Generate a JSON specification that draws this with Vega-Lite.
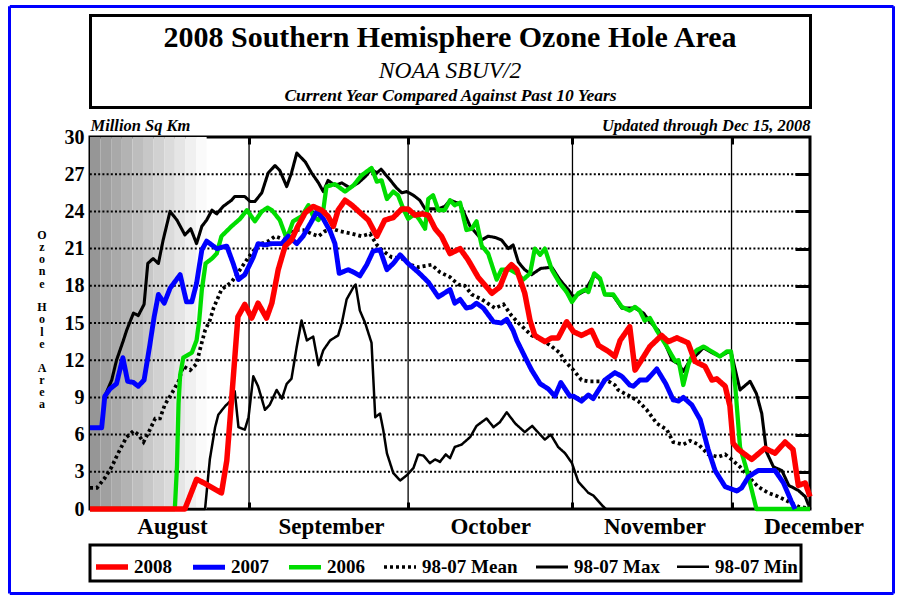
{
  "$schema": "https://vega.github.io/schema/vega-lite/v6.json",
  "background": "white",
  "width": 720,
  "height": 372,
  "autosize": {"type": "none"},
  "padding": {"left": 90, "top": 137, "right": 90, "bottom": 91},
  "config": {
    "font": "Liberation Serif",
    "view": {"stroke": "black", "strokeWidth": 3},
    "legend": {"strokeColor": "black", "strokeWidth": 3, "fillColor": "white"}
  },
  "title": {
    "text": "2008 Southern Hemisphere Ozone Hole Area",
    "subtitle": "NOAA SBUV/2",
    "frame": "group",
    "anchor": "middle",
    "offset": -78,
    "fontSize": 30,
    "fontWeight": "bold",
    "color": "black",
    "subtitleFontSize": 23.5,
    "subtitleFontStyle": "italic",
    "subtitleColor": "black",
    "subtitlePadding": 6
  },
  "datasets": {
    "ozone": [
      {"series": "2008", "day": 1, "area": 0}, {"series": "2008", "day": 18.9, "area": 0}, {"series": "2008", "day": 21.1, "area": 2.4}, {"series": "2008", "day": 22.5, "area": 2.1}, {"series": "2008", "day": 25.8, "area": 1.3}, {"series": "2008", "day": 26.8, "area": 3.9}, {"series": "2008", "day": 27.7, "area": 8.8}, {"series": "2008", "day": 28.9, "area": 15.5}, {"series": "2008", "day": 30.2, "area": 16.5}, {"series": "2008", "day": 31.5, "area": 15.4}, {"series": "2008", "day": 32.7, "area": 16.6}, {"series": "2008", "day": 34.3, "area": 15.4}, {"series": "2008", "day": 35.3, "area": 16.6}, {"series": "2008", "day": 36.5, "area": 19.3}, {"series": "2008", "day": 37.8, "area": 21.2}, {"series": "2008", "day": 39, "area": 21.7}, {"series": "2008", "day": 40.2, "area": 22.8}, {"series": "2008", "day": 41.6, "area": 23.9}, {"series": "2008", "day": 43.1, "area": 24.4}, {"series": "2008", "day": 44.7, "area": 24.1}, {"series": "2008", "day": 45.9, "area": 23.6}, {"series": "2008", "day": 46.9, "area": 22.8}, {"series": "2008", "day": 47.8, "area": 24.1}, {"series": "2008", "day": 49.1, "area": 24.9}, {"series": "2008", "day": 50.4, "area": 24.5}, {"series": "2008", "day": 52.2, "area": 23.8}, {"series": "2008", "day": 53.5, "area": 23.3}, {"series": "2008", "day": 55.1, "area": 22}, {"series": "2008", "day": 56.6, "area": 23.3}, {"series": "2008", "day": 58.2, "area": 23.5}, {"series": "2008", "day": 59.8, "area": 24.2}, {"series": "2008", "day": 61, "area": 24.2}, {"series": "2008", "day": 62.3, "area": 23.7}, {"series": "2008", "day": 63.6, "area": 23.8}, {"series": "2008", "day": 64.8, "area": 23.7}, {"series": "2008", "day": 66.1, "area": 22.6}, {"series": "2008", "day": 67.3, "area": 22}, {"series": "2008", "day": 68.9, "area": 20.6}, {"series": "2008", "day": 70.8, "area": 21}, {"series": "2008", "day": 72.3, "area": 20.1}, {"series": "2008", "day": 74.2, "area": 18.7}, {"series": "2008", "day": 76.8, "area": 17.4}, {"series": "2008", "day": 78.3, "area": 17.9}, {"series": "2008", "day": 79.6, "area": 19.3}, {"series": "2008", "day": 80.5, "area": 19.7}, {"series": "2008", "day": 81.5, "area": 19.3}, {"series": "2008", "day": 83, "area": 17.4}, {"series": "2008", "day": 84, "area": 15.2}, {"series": "2008", "day": 84.9, "area": 14}, {"series": "2008", "day": 86.8, "area": 13.5}, {"series": "2008", "day": 88.1, "area": 13.8}, {"series": "2008", "day": 89.3, "area": 13.8}, {"series": "2008", "day": 90.9, "area": 15.1}, {"series": "2008", "day": 92.2, "area": 14.3}, {"series": "2008", "day": 93.7, "area": 14}, {"series": "2008", "day": 95.6, "area": 14.4}, {"series": "2008", "day": 96.9, "area": 13.2}, {"series": "2008", "day": 98.8, "area": 12.7}, {"series": "2008", "day": 100, "area": 12.3}, {"series": "2008", "day": 101, "area": 13.6}, {"series": "2008", "day": 102.8, "area": 14.7}, {"series": "2008", "day": 103.8, "area": 11.2}, {"series": "2008", "day": 105, "area": 12}, {"series": "2008", "day": 106.6, "area": 13.1}, {"series": "2008", "day": 108.8, "area": 14}, {"series": "2008", "day": 110.1, "area": 13.5}, {"series": "2008", "day": 111.7, "area": 13.8}, {"series": "2008", "day": 113.8, "area": 13.4}, {"series": "2008", "day": 115.1, "area": 11.9}, {"series": "2008", "day": 117, "area": 11.5}, {"series": "2008", "day": 118.3, "area": 10.4}, {"series": "2008", "day": 119.2, "area": 10.5}, {"series": "2008", "day": 120.8, "area": 9.9}, {"series": "2008", "day": 121.7, "area": 8.3}, {"series": "2008", "day": 122.3, "area": 5.3}, {"series": "2008", "day": 123.3, "area": 4.8}, {"series": "2008", "day": 125.8, "area": 4}, {"series": "2008", "day": 128.3, "area": 4.9}, {"series": "2008", "day": 130.2, "area": 4.5}, {"series": "2008", "day": 132.1, "area": 5.4}, {"series": "2008", "day": 133.6, "area": 4.8}, {"series": "2008", "day": 134.6, "area": 1.9}, {"series": "2008", "day": 135.9, "area": 2.1}, {"series": "2008", "day": 136.8, "area": 1.0},

      {"series": "2007", "day": 1, "area": 6.55}, {"series": "2007", "day": 3.2, "area": 6.55}, {"series": "2007", "day": 3.8, "area": 9.1}, {"series": "2007", "day": 4.8, "area": 9.7}, {"series": "2007", "day": 6, "area": 10.1}, {"series": "2007", "day": 7.2, "area": 12.2}, {"series": "2007", "day": 8.1, "area": 10.3}, {"series": "2007", "day": 9.2, "area": 10.2}, {"series": "2007", "day": 10.1, "area": 9.9}, {"series": "2007", "day": 11.2, "area": 10.4}, {"series": "2007", "day": 12.2, "area": 13}, {"series": "2007", "day": 13.1, "area": 15.5}, {"series": "2007", "day": 13.9, "area": 17.3}, {"series": "2007", "day": 15, "area": 16.6}, {"series": "2007", "day": 16.1, "area": 17.8}, {"series": "2007", "day": 18, "area": 18.9}, {"series": "2007", "day": 19.2, "area": 16.7}, {"series": "2007", "day": 20.2, "area": 16.7}, {"series": "2007", "day": 21.1, "area": 18.2}, {"series": "2007", "day": 22.1, "area": 20.9}, {"series": "2007", "day": 23, "area": 21.6}, {"series": "2007", "day": 24.9, "area": 21}, {"series": "2007", "day": 26.8, "area": 21.2}, {"series": "2007", "day": 28, "area": 19.8}, {"series": "2007", "day": 29, "area": 18.5}, {"series": "2007", "day": 30.2, "area": 18.9}, {"series": "2007", "day": 31.8, "area": 20.3}, {"series": "2007", "day": 32.7, "area": 21.4}, {"series": "2007", "day": 34, "area": 21.3}, {"series": "2007", "day": 35.3, "area": 21.4}, {"series": "2007", "day": 37.2, "area": 21.4}, {"series": "2007", "day": 38.4, "area": 22}, {"series": "2007", "day": 40, "area": 21.4}, {"series": "2007", "day": 41.2, "area": 22}, {"series": "2007", "day": 42.8, "area": 23.2}, {"series": "2007", "day": 43.8, "area": 24}, {"series": "2007", "day": 45, "area": 23.4}, {"series": "2007", "day": 46.3, "area": 22.4}, {"series": "2007", "day": 47.2, "area": 21.4}, {"series": "2007", "day": 48, "area": 19}, {"series": "2007", "day": 49.7, "area": 19.3}, {"series": "2007", "day": 50.7, "area": 19.1}, {"series": "2007", "day": 51.9, "area": 18.8}, {"series": "2007", "day": 53.2, "area": 19.7}, {"series": "2007", "day": 54.4, "area": 20.8}, {"series": "2007", "day": 55.7, "area": 20.9}, {"series": "2007", "day": 57, "area": 19.3}, {"series": "2007", "day": 58.2, "area": 19.8}, {"series": "2007", "day": 59.5, "area": 20.5}, {"series": "2007", "day": 61, "area": 19.8}, {"series": "2007", "day": 62.9, "area": 19.1}, {"series": "2007", "day": 64.8, "area": 18.3}, {"series": "2007", "day": 66.7, "area": 17.1}, {"series": "2007", "day": 68.9, "area": 17.7}, {"series": "2007", "day": 69.8, "area": 16.6}, {"series": "2007", "day": 70.8, "area": 16.9}, {"series": "2007", "day": 72, "area": 16.2}, {"series": "2007", "day": 73, "area": 16.3}, {"series": "2007", "day": 73.9, "area": 16.6}, {"series": "2007", "day": 75.2, "area": 16.2}, {"series": "2007", "day": 77.1, "area": 15.1}, {"series": "2007", "day": 78.6, "area": 15}, {"series": "2007", "day": 79.6, "area": 15.3}, {"series": "2007", "day": 80.8, "area": 14.4}, {"series": "2007", "day": 81.5, "area": 13.6}, {"series": "2007", "day": 83, "area": 12.3}, {"series": "2007", "day": 84.3, "area": 11.2}, {"series": "2007", "day": 85.9, "area": 10.1}, {"series": "2007", "day": 87.4, "area": 9.7}, {"series": "2007", "day": 88.7, "area": 9.1}, {"series": "2007", "day": 89.8, "area": 10.2}, {"series": "2007", "day": 91.5, "area": 9.1}, {"series": "2007", "day": 92.2, "area": 9.1}, {"series": "2007", "day": 93.7, "area": 8.7}, {"series": "2007", "day": 95, "area": 9.2}, {"series": "2007", "day": 95.9, "area": 8.9}, {"series": "2007", "day": 98.1, "area": 10.4}, {"series": "2007", "day": 100, "area": 11}, {"series": "2007", "day": 101.3, "area": 10.7}, {"series": "2007", "day": 102.8, "area": 10}, {"series": "2007", "day": 103.5, "area": 9.9}, {"series": "2007", "day": 104.7, "area": 10.4}, {"series": "2007", "day": 106, "area": 10.4}, {"series": "2007", "day": 107.9, "area": 11.3}, {"series": "2007", "day": 109.6, "area": 10.1}, {"series": "2007", "day": 111, "area": 8.8}, {"series": "2007", "day": 112, "area": 8.7}, {"series": "2007", "day": 112.9, "area": 9}, {"series": "2007", "day": 114.5, "area": 8.4}, {"series": "2007", "day": 116.1, "area": 7.2}, {"series": "2007", "day": 117.6, "area": 4.8}, {"series": "2007", "day": 118.9, "area": 3.1}, {"series": "2007", "day": 120.8, "area": 1.8}, {"series": "2007", "day": 123, "area": 1.45}, {"series": "2007", "day": 123.9, "area": 1.7}, {"series": "2007", "day": 125.2, "area": 2.6}, {"series": "2007", "day": 127, "area": 3.1}, {"series": "2007", "day": 130.2, "area": 3.1}, {"series": "2007", "day": 131.8, "area": 2.1}, {"series": "2007", "day": 133.3, "area": 0.6}, {"series": "2007", "day": 134, "area": 0},

      {"series": "2006", "day": 1, "area": 0}, {"series": "2006", "day": 17, "area": 0}, {"series": "2006", "day": 17.4, "area": 3.4}, {"series": "2006", "day": 17.7, "area": 8.5}, {"series": "2006", "day": 18, "area": 10.8}, {"series": "2006", "day": 18.6, "area": 12.2}, {"series": "2006", "day": 20.2, "area": 12.6}, {"series": "2006", "day": 21.1, "area": 13.6}, {"series": "2006", "day": 21.6, "area": 15.2}, {"series": "2006", "day": 22.1, "area": 17.7}, {"series": "2006", "day": 22.8, "area": 19.8}, {"series": "2006", "day": 24, "area": 20.2}, {"series": "2006", "day": 24.9, "area": 20.6}, {"series": "2006", "day": 25.8, "area": 22}, {"series": "2006", "day": 27.7, "area": 22.8}, {"series": "2006", "day": 29.3, "area": 23.4}, {"series": "2006", "day": 30.6, "area": 24.1}, {"series": "2006", "day": 32.1, "area": 23.2}, {"series": "2006", "day": 33.4, "area": 24}, {"series": "2006", "day": 34.5, "area": 24.3}, {"series": "2006", "day": 35.3, "area": 24.1}, {"series": "2006", "day": 36.8, "area": 23.3}, {"series": "2006", "day": 38.1, "area": 21.8}, {"series": "2006", "day": 39.3, "area": 23.2}, {"series": "2006", "day": 40.9, "area": 23.6}, {"series": "2006", "day": 42.2, "area": 24.5}, {"series": "2006", "day": 43.1, "area": 23.6}, {"series": "2006", "day": 44.1, "area": 23.3}, {"series": "2006", "day": 45, "area": 24.1}, {"series": "2006", "day": 45.6, "area": 26}, {"series": "2006", "day": 47.2, "area": 26.2}, {"series": "2006", "day": 49.1, "area": 25.6}, {"series": "2006", "day": 50.7, "area": 26.1}, {"series": "2006", "day": 52.2, "area": 26.9}, {"series": "2006", "day": 54.1, "area": 27.5}, {"series": "2006", "day": 55.1, "area": 26.4}, {"series": "2006", "day": 56, "area": 26.5}, {"series": "2006", "day": 57, "area": 25}, {"series": "2006", "day": 58.2, "area": 25.6}, {"series": "2006", "day": 59.1, "area": 25.3}, {"series": "2006", "day": 60.1, "area": 24.2}, {"series": "2006", "day": 61, "area": 23.4}, {"series": "2006", "day": 62.3, "area": 23.8}, {"series": "2006", "day": 63.2, "area": 23.3}, {"series": "2006", "day": 64.2, "area": 22.6}, {"series": "2006", "day": 64.8, "area": 25}, {"series": "2006", "day": 65.7, "area": 25.3}, {"series": "2006", "day": 66.7, "area": 24.1}, {"series": "2006", "day": 67.9, "area": 24.1}, {"series": "2006", "day": 68.9, "area": 24.9}, {"series": "2006", "day": 69.8, "area": 24.5}, {"series": "2006", "day": 70.8, "area": 24.7}, {"series": "2006", "day": 72, "area": 22.5}, {"series": "2006", "day": 73, "area": 22.6}, {"series": "2006", "day": 73.9, "area": 23.2}, {"series": "2006", "day": 74.9, "area": 21.2}, {"series": "2006", "day": 76.1, "area": 20.6}, {"series": "2006", "day": 77.7, "area": 18.5}, {"series": "2006", "day": 78.6, "area": 19.3}, {"series": "2006", "day": 80.2, "area": 19.3}, {"series": "2006", "day": 81.5, "area": 19}, {"series": "2006", "day": 82.7, "area": 18.5}, {"series": "2006", "day": 84, "area": 19}, {"series": "2006", "day": 84.9, "area": 21}, {"series": "2006", "day": 85.9, "area": 20.5}, {"series": "2006", "day": 86.8, "area": 21}, {"series": "2006", "day": 88.1, "area": 19.3}, {"series": "2006", "day": 89.6, "area": 18.2}, {"series": "2006", "day": 90.9, "area": 17.5}, {"series": "2006", "day": 91.9, "area": 16.7}, {"series": "2006", "day": 93.1, "area": 17.4}, {"series": "2006", "day": 94.4, "area": 17.7}, {"series": "2006", "day": 95, "area": 17.5}, {"series": "2006", "day": 96.1, "area": 19}, {"series": "2006", "day": 97.2, "area": 18.6}, {"series": "2006", "day": 98.1, "area": 17.3}, {"series": "2006", "day": 99.7, "area": 17.3}, {"series": "2006", "day": 101.3, "area": 16.3}, {"series": "2006", "day": 102.8, "area": 16}, {"series": "2006", "day": 103.8, "area": 16.3}, {"series": "2006", "day": 104.7, "area": 16}, {"series": "2006", "day": 105.6, "area": 15.2}, {"series": "2006", "day": 106.6, "area": 15.4}, {"series": "2006", "day": 107.9, "area": 14.4}, {"series": "2006", "day": 109.8, "area": 13.1}, {"series": "2006", "day": 111.4, "area": 11.9}, {"series": "2006", "day": 112, "area": 12}, {"series": "2006", "day": 112.9, "area": 10}, {"series": "2006", "day": 113.9, "area": 11.7}, {"series": "2006", "day": 114.5, "area": 12.3}, {"series": "2006", "day": 115.4, "area": 12.8}, {"series": "2006", "day": 116.7, "area": 13.1}, {"series": "2006", "day": 118.3, "area": 12.7}, {"series": "2006", "day": 119.8, "area": 12.3}, {"series": "2006", "day": 121.1, "area": 12.7}, {"series": "2006", "day": 121.9, "area": 12.7}, {"series": "2006", "day": 122.7, "area": 9.9}, {"series": "2006", "day": 123.6, "area": 5}, {"series": "2006", "day": 124.9, "area": 3.1}, {"series": "2006", "day": 126.7, "area": 0}, {"series": "2006", "day": 136.8, "area": 0},

      {"series": "98-07 Mean", "day": 1, "area": 1.7}, {"series": "98-07 Mean", "day": 2.3, "area": 1.7}, {"series": "98-07 Mean", "day": 3.8, "area": 2.5}, {"series": "98-07 Mean", "day": 5.1, "area": 3.4}, {"series": "98-07 Mean", "day": 6.3, "area": 4.5}, {"series": "98-07 Mean", "day": 7.9, "area": 5.8}, {"series": "98-07 Mean", "day": 9.2, "area": 6.3}, {"series": "98-07 Mean", "day": 10.1, "area": 6}, {"series": "98-07 Mean", "day": 11.1, "area": 5.4}, {"series": "98-07 Mean", "day": 12.3, "area": 6.4}, {"series": "98-07 Mean", "day": 13.3, "area": 7.3}, {"series": "98-07 Mean", "day": 14.2, "area": 7.3}, {"series": "98-07 Mean", "day": 15.1, "area": 8.4}, {"series": "98-07 Mean", "day": 16.4, "area": 9.3}, {"series": "98-07 Mean", "day": 17.7, "area": 10.3}, {"series": "98-07 Mean", "day": 18.6, "area": 11.5}, {"series": "98-07 Mean", "day": 19.9, "area": 11.2}, {"series": "98-07 Mean", "day": 21.1, "area": 11.7}, {"series": "98-07 Mean", "day": 21.7, "area": 12.8}, {"series": "98-07 Mean", "day": 22.7, "area": 14.4}, {"series": "98-07 Mean", "day": 23.6, "area": 15.2}, {"series": "98-07 Mean", "day": 24.3, "area": 16.2}, {"series": "98-07 Mean", "day": 25.8, "area": 17.7}, {"series": "98-07 Mean", "day": 27.7, "area": 18.3}, {"series": "98-07 Mean", "day": 29.3, "area": 19.3}, {"series": "98-07 Mean", "day": 30.9, "area": 20.3}, {"series": "98-07 Mean", "day": 32.7, "area": 21.3}, {"series": "98-07 Mean", "day": 34.6, "area": 21.6}, {"series": "98-07 Mean", "day": 35.9, "area": 22}, {"series": "98-07 Mean", "day": 37.8, "area": 21.7}, {"series": "98-07 Mean", "day": 39.7, "area": 22.5}, {"series": "98-07 Mean", "day": 41.2, "area": 22.5}, {"series": "98-07 Mean", "day": 42.8, "area": 22.2}, {"series": "98-07 Mean", "day": 44.1, "area": 22}, {"series": "98-07 Mean", "day": 45.3, "area": 22.4}, {"series": "98-07 Mean", "day": 46.6, "area": 22.6}, {"series": "98-07 Mean", "day": 48.2, "area": 22.4}, {"series": "98-07 Mean", "day": 50.4, "area": 22.2}, {"series": "98-07 Mean", "day": 52.2, "area": 22}, {"series": "98-07 Mean", "day": 53.8, "area": 22.2}, {"series": "98-07 Mean", "day": 55.1, "area": 21.3}, {"series": "98-07 Mean", "day": 56.3, "area": 20.8}, {"series": "98-07 Mean", "day": 57.9, "area": 20.3}, {"series": "98-07 Mean", "day": 59.8, "area": 20.2}, {"series": "98-07 Mean", "day": 61.4, "area": 19.7}, {"series": "98-07 Mean", "day": 62.9, "area": 19.5}, {"series": "98-07 Mean", "day": 65.4, "area": 19.7}, {"series": "98-07 Mean", "day": 67, "area": 19.1}, {"series": "98-07 Mean", "day": 68.9, "area": 18.7}, {"series": "98-07 Mean", "day": 70.5, "area": 18.1}, {"series": "98-07 Mean", "day": 71.7, "area": 18}, {"series": "98-07 Mean", "day": 73, "area": 17.3}, {"series": "98-07 Mean", "day": 74.9, "area": 16.9}, {"series": "98-07 Mean", "day": 77.4, "area": 16.2}, {"series": "98-07 Mean", "day": 79, "area": 16.5}, {"series": "98-07 Mean", "day": 80.5, "area": 15.6}, {"series": "98-07 Mean", "day": 81.8, "area": 15}, {"series": "98-07 Mean", "day": 84.3, "area": 14}, {"series": "98-07 Mean", "day": 86.8, "area": 13.5}, {"series": "98-07 Mean", "day": 88.1, "area": 13.1}, {"series": "98-07 Mean", "day": 89.6, "area": 12.6}, {"series": "98-07 Mean", "day": 90.6, "area": 11.9}, {"series": "98-07 Mean", "day": 92.2, "area": 11.2}, {"series": "98-07 Mean", "day": 93.7, "area": 10.4}, {"series": "98-07 Mean", "day": 95, "area": 10.3}, {"series": "98-07 Mean", "day": 96.9, "area": 10.3}, {"series": "98-07 Mean", "day": 98.8, "area": 10.3}, {"series": "98-07 Mean", "day": 100, "area": 10}, {"series": "98-07 Mean", "day": 100.6, "area": 9.6}, {"series": "98-07 Mean", "day": 101.9, "area": 9.3}, {"series": "98-07 Mean", "day": 102.8, "area": 9.1}, {"series": "98-07 Mean", "day": 104.4, "area": 8.7}, {"series": "98-07 Mean", "day": 106, "area": 8}, {"series": "98-07 Mean", "day": 107.9, "area": 6.9}, {"series": "98-07 Mean", "day": 109.8, "area": 6.4}, {"series": "98-07 Mean", "day": 111, "area": 5.4}, {"series": "98-07 Mean", "day": 112.9, "area": 5.2}, {"series": "98-07 Mean", "day": 114.2, "area": 5.5}, {"series": "98-07 Mean", "day": 115.8, "area": 5.2}, {"series": "98-07 Mean", "day": 117.6, "area": 4.4}, {"series": "98-07 Mean", "day": 119.5, "area": 4.2}, {"series": "98-07 Mean", "day": 120.8, "area": 4.4}, {"series": "98-07 Mean", "day": 122, "area": 4}, {"series": "98-07 Mean", "day": 123.6, "area": 3.4}, {"series": "98-07 Mean", "day": 125.2, "area": 2.6}, {"series": "98-07 Mean", "day": 127, "area": 1.8}, {"series": "98-07 Mean", "day": 128.9, "area": 1.3}, {"series": "98-07 Mean", "day": 130.8, "area": 1}, {"series": "98-07 Mean", "day": 132.7, "area": 0.6}, {"series": "98-07 Mean", "day": 134.6, "area": 0.2}, {"series": "98-07 Mean", "day": 136.5, "area": 0.05},

      {"series": "98-07 Max", "day": 1, "area": 6.55}, {"series": "98-07 Max", "day": 3.2, "area": 6.55}, {"series": "98-07 Max", "day": 3.8, "area": 9.1}, {"series": "98-07 Max", "day": 5.1, "area": 10.4}, {"series": "98-07 Max", "day": 6, "area": 12}, {"series": "98-07 Max", "day": 7.3, "area": 13.6}, {"series": "98-07 Max", "day": 7.9, "area": 14.4}, {"series": "98-07 Max", "day": 9.2, "area": 15.8}, {"series": "98-07 Max", "day": 10.1, "area": 15.6}, {"series": "98-07 Max", "day": 11.2, "area": 16.5}, {"series": "98-07 Max", "day": 11.9, "area": 19.8}, {"series": "98-07 Max", "day": 12.9, "area": 20.2}, {"series": "98-07 Max", "day": 13.9, "area": 19.8}, {"series": "98-07 Max", "day": 14.8, "area": 21.7}, {"series": "98-07 Max", "day": 16.1, "area": 24}, {"series": "98-07 Max", "day": 17.4, "area": 23.3}, {"series": "98-07 Max", "day": 18.9, "area": 22.1}, {"series": "98-07 Max", "day": 20, "area": 22.6}, {"series": "98-07 Max", "day": 21.1, "area": 21.4}, {"series": "98-07 Max", "day": 22.1, "area": 22.8}, {"series": "98-07 Max", "day": 23, "area": 23.3}, {"series": "98-07 Max", "day": 24, "area": 24.1}, {"series": "98-07 Max", "day": 24.9, "area": 23.8}, {"series": "98-07 Max", "day": 26.1, "area": 24.4}, {"series": "98-07 Max", "day": 27.7, "area": 24.9}, {"series": "98-07 Max", "day": 28.3, "area": 25.2}, {"series": "98-07 Max", "day": 30.2, "area": 25.2}, {"series": "98-07 Max", "day": 31.2, "area": 24.8}, {"series": "98-07 Max", "day": 32.1, "area": 24.8}, {"series": "98-07 Max", "day": 33.4, "area": 25.5}, {"series": "98-07 Max", "day": 34, "area": 26.3}, {"series": "98-07 Max", "day": 34.6, "area": 27.1}, {"series": "98-07 Max", "day": 35.9, "area": 27.7}, {"series": "98-07 Max", "day": 36.8, "area": 27.3}, {"series": "98-07 Max", "day": 38.1, "area": 26}, {"series": "98-07 Max", "day": 39, "area": 27.1}, {"series": "98-07 Max", "day": 40, "area": 28.7}, {"series": "98-07 Max", "day": 41.6, "area": 28}, {"series": "98-07 Max", "day": 42.8, "area": 27.1}, {"series": "98-07 Max", "day": 44.1, "area": 26.3}, {"series": "98-07 Max", "day": 45, "area": 25.6}, {"series": "98-07 Max", "day": 45.9, "area": 26.5}, {"series": "98-07 Max", "day": 47.2, "area": 26.1}, {"series": "98-07 Max", "day": 48.5, "area": 26.3}, {"series": "98-07 Max", "day": 50, "area": 25.9}, {"series": "98-07 Max", "day": 51.6, "area": 26.3}, {"series": "98-07 Max", "day": 52.9, "area": 26.8}, {"series": "98-07 Max", "day": 54.1, "area": 27.4}, {"series": "98-07 Max", "day": 55.1, "area": 27.1}, {"series": "98-07 Max", "day": 55.9, "area": 27.4}, {"series": "98-07 Max", "day": 57.3, "area": 26.7}, {"series": "98-07 Max", "day": 58.8, "area": 25.9}, {"series": "98-07 Max", "day": 59.8, "area": 25.5}, {"series": "98-07 Max", "day": 60.7, "area": 25.6}, {"series": "98-07 Max", "day": 62, "area": 25.3}, {"series": "98-07 Max", "day": 63.2, "area": 24.9}, {"series": "98-07 Max", "day": 64.2, "area": 24.2}, {"series": "98-07 Max", "day": 66.7, "area": 24.2}, {"series": "98-07 Max", "day": 67.9, "area": 24.4}, {"series": "98-07 Max", "day": 68.9, "area": 24.9}, {"series": "98-07 Max", "day": 70.8, "area": 24.6}, {"series": "98-07 Max", "day": 72.7, "area": 22.8}, {"series": "98-07 Max", "day": 74.9, "area": 21.7}, {"series": "98-07 Max", "day": 76.1, "area": 22}, {"series": "98-07 Max", "day": 77.4, "area": 21.9}, {"series": "98-07 Max", "day": 78.6, "area": 21.7}, {"series": "98-07 Max", "day": 79.9, "area": 21}, {"series": "98-07 Max", "day": 80.8, "area": 21.3}, {"series": "98-07 Max", "day": 81.8, "area": 19.9}, {"series": "98-07 Max", "day": 83, "area": 19.3}, {"series": "98-07 Max", "day": 84.3, "area": 18.9}, {"series": "98-07 Max", "day": 86, "area": 19.4}, {"series": "98-07 Max", "day": 88.1, "area": 19.5}, {"series": "98-07 Max", "day": 89.6, "area": 18.5}, {"series": "98-07 Max", "day": 91.2, "area": 17.7}, {"series": "98-07 Max", "day": 92.2, "area": 17.1}, {"series": "98-07 Max", "day": 94.4, "area": 17.6}, {"series": "98-07 Max", "day": 96.1, "area": 18.9}, {"series": "98-07 Max", "day": 97.2, "area": 18.5}, {"series": "98-07 Max", "day": 98.1, "area": 17.3}, {"series": "98-07 Max", "day": 99.7, "area": 17.2}, {"series": "98-07 Max", "day": 101.3, "area": 16.2}, {"series": "98-07 Max", "day": 103.8, "area": 16.2}, {"series": "98-07 Max", "day": 105.4, "area": 15.8}, {"series": "98-07 Max", "day": 106.6, "area": 15.1}, {"series": "98-07 Max", "day": 108.2, "area": 14.4}, {"series": "98-07 Max", "day": 109.6, "area": 13.2}, {"series": "98-07 Max", "day": 110.8, "area": 12}, {"series": "98-07 Max", "day": 112, "area": 11.7}, {"series": "98-07 Max", "day": 112.9, "area": 11.1}, {"series": "98-07 Max", "day": 114.2, "area": 12}, {"series": "98-07 Max", "day": 115.1, "area": 12.3}, {"series": "98-07 Max", "day": 116.7, "area": 13}, {"series": "98-07 Max", "day": 118.3, "area": 12.6}, {"series": "98-07 Max", "day": 119.8, "area": 12.3}, {"series": "98-07 Max", "day": 121.1, "area": 12.6}, {"series": "98-07 Max", "day": 121.9, "area": 12.7}, {"series": "98-07 Max", "day": 123.6, "area": 9.6}, {"series": "98-07 Max", "day": 125.5, "area": 10.3}, {"series": "98-07 Max", "day": 126.7, "area": 9.3}, {"series": "98-07 Max", "day": 127.7, "area": 7.7}, {"series": "98-07 Max", "day": 128.6, "area": 4.6}, {"series": "98-07 Max", "day": 129.9, "area": 3.4}, {"series": "98-07 Max", "day": 131.5, "area": 3.1}, {"series": "98-07 Max", "day": 132.8, "area": 1.9}, {"series": "98-07 Max", "day": 134.6, "area": 1.5}, {"series": "98-07 Max", "day": 135.9, "area": 1}, {"series": "98-07 Max", "day": 136.8, "area": 0},

      {"series": "98-07 Min", "day": 1, "area": 0}, {"series": "98-07 Min", "day": 22.7, "area": 0}, {"series": "98-07 Min", "day": 23.6, "area": 4}, {"series": "98-07 Min", "day": 24.6, "area": 6.6}, {"series": "98-07 Min", "day": 25.2, "area": 7.6}, {"series": "98-07 Min", "day": 26.5, "area": 8.3}, {"series": "98-07 Min", "day": 27.7, "area": 8.8}, {"series": "98-07 Min", "day": 28.3, "area": 9.5}, {"series": "98-07 Min", "day": 29, "area": 6.6}, {"series": "98-07 Min", "day": 30.2, "area": 6.4}, {"series": "98-07 Min", "day": 30.9, "area": 7.4}, {"series": "98-07 Min", "day": 31.8, "area": 10.7}, {"series": "98-07 Min", "day": 32.7, "area": 9.9}, {"series": "98-07 Min", "day": 34, "area": 8}, {"series": "98-07 Min", "day": 34.9, "area": 8.4}, {"series": "98-07 Min", "day": 36.2, "area": 9.6}, {"series": "98-07 Min", "day": 37.2, "area": 8.9}, {"series": "98-07 Min", "day": 38.1, "area": 10.1}, {"series": "98-07 Min", "day": 39, "area": 10.5}, {"series": "98-07 Min", "day": 40, "area": 13.1}, {"series": "98-07 Min", "day": 40.9, "area": 15.2}, {"series": "98-07 Min", "day": 41.9, "area": 13.6}, {"series": "98-07 Min", "day": 43.1, "area": 13.9}, {"series": "98-07 Min", "day": 44.1, "area": 11.6}, {"series": "98-07 Min", "day": 45, "area": 12.8}, {"series": "98-07 Min", "day": 46.3, "area": 13.6}, {"series": "98-07 Min", "day": 47.8, "area": 14}, {"series": "98-07 Min", "day": 48.5, "area": 15}, {"series": "98-07 Min", "day": 49.4, "area": 16.9}, {"series": "98-07 Min", "day": 50.7, "area": 17.9}, {"series": "98-07 Min", "day": 51.1, "area": 18.1}, {"series": "98-07 Min", "day": 51.9, "area": 16}, {"series": "98-07 Min", "day": 52.9, "area": 15}, {"series": "98-07 Min", "day": 54.1, "area": 13.4}, {"series": "98-07 Min", "day": 54.8, "area": 7.4}, {"series": "98-07 Min", "day": 55.7, "area": 7.7}, {"series": "98-07 Min", "day": 56.3, "area": 6.4}, {"series": "98-07 Min", "day": 57, "area": 4.5}, {"series": "98-07 Min", "day": 58.2, "area": 2.9}, {"series": "98-07 Min", "day": 59.5, "area": 2.3}, {"series": "98-07 Min", "day": 60.7, "area": 2.7}, {"series": "98-07 Min", "day": 62, "area": 3.3}, {"series": "98-07 Min", "day": 62.9, "area": 4.4}, {"series": "98-07 Min", "day": 63.9, "area": 4.3}, {"series": "98-07 Min", "day": 65.1, "area": 3.7}, {"series": "98-07 Min", "day": 66.1, "area": 4}, {"series": "98-07 Min", "day": 67, "area": 3.8}, {"series": "98-07 Min", "day": 68.1, "area": 4.4}, {"series": "98-07 Min", "day": 68.9, "area": 4.1}, {"series": "98-07 Min", "day": 69.8, "area": 5}, {"series": "98-07 Min", "day": 71.1, "area": 5.2}, {"series": "98-07 Min", "day": 72.7, "area": 5.8}, {"series": "98-07 Min", "day": 73.9, "area": 6.7}, {"series": "98-07 Min", "day": 75.8, "area": 7.3}, {"series": "98-07 Min", "day": 77.1, "area": 6.6}, {"series": "98-07 Min", "day": 78.3, "area": 7}, {"series": "98-07 Min", "day": 79.6, "area": 7.8}, {"series": "98-07 Min", "day": 81.2, "area": 6.9}, {"series": "98-07 Min", "day": 83, "area": 6.2}, {"series": "98-07 Min", "day": 84.4, "area": 6.7}, {"series": "98-07 Min", "day": 85.9, "area": 6}, {"series": "98-07 Min", "day": 86.8, "area": 5.6}, {"series": "98-07 Min", "day": 87.9, "area": 6}, {"series": "98-07 Min", "day": 89.3, "area": 5}, {"series": "98-07 Min", "day": 90.6, "area": 4.5}, {"series": "98-07 Min", "day": 91.9, "area": 3.7}, {"series": "98-07 Min", "day": 93.1, "area": 2.2}, {"series": "98-07 Min", "day": 95, "area": 1.3}, {"series": "98-07 Min", "day": 95.9, "area": 1.1}, {"series": "98-07 Min", "day": 97.8, "area": 0.2}, {"series": "98-07 Min", "day": 98.3, "area": 0}
    ]
  },
  "layer": [
    {
      "data": {"values": [
        {"shade": 0, "start": 1, "end": 3}, {"shade": 1, "start": 3, "end": 5}, {"shade": 2, "start": 5, "end": 7}, {"shade": 3, "start": 7, "end": 9}, {"shade": 4, "start": 9, "end": 11}, {"shade": 5, "start": 11, "end": 13}, {"shade": 6, "start": 13, "end": 15}, {"shade": 7, "start": 15, "end": 17}, {"shade": 8, "start": 17, "end": 19}, {"shade": 9, "start": 19, "end": 21}, {"shade": 10, "start": 21, "end": 23}
      ]},
      "mark": {"type": "rect"},
      "encoding": {
        "x": {"field": "start", "type": "quantitative", "scale": {"domain": [1, 136.8], "nice": false, "zero": false},
          "axis": {"orient": "bottom", "values": [1, 31, 61, 92, 122],
            "labelExpr": "datum.value < 2 ? 'August' : datum.value == 31 ? 'September' : datum.value == 61 ? 'October' : datum.value == 92 ? 'November' : 'December'",
            "labelOffset": 82, "labelFontSize": 23, "labelFontWeight": "bold", "labelColor": "black", "labelPadding": 13, "labelBaseline": "top",
            "labelFlush": false, "labelOverlap": false, "labelBound": false, "labelLimit": 300,
            "tickSize": -7, "tickWidth": 3, "tickColor": "black",
            "tickOpacity": {"condition": {"test": "datum.value < 2", "value": 0}, "value": 1},
            "domain": false, "grid": false, "title": null}},
        "x2": {"field": "end"},
        "fill": {"field": "shade", "type": "quantitative", "scale": {"domain": [0, 10], "range": ["#969696", "#fafafa"]}, "legend": null}
      }
    },
    {
      "data": {"values": [{"level": 3}, {"level": 6}, {"level": 9}, {"level": 12}, {"level": 15}, {"level": 18}, {"level": 21}, {"level": 24}, {"level": 27}]},
      "mark": {"type": "rule", "color": "black", "strokeWidth": 2, "strokeDash": [2, 2.2]},
      "encoding": {
        "y": {"field": "level", "type": "quantitative", "scale": {"domain": [0, 30], "nice": false, "zero": true},
          "axis": {"orient": "left", "values": [0, 3, 6, 9, 12, 15, 18, 21, 24, 27, 30],
            "labelFontSize": 20, "labelFontWeight": "bold", "labelColor": "black", "labelPadding": 6,
            "ticks": false, "domain": false, "grid": false, "labelFlush": false,
            "title": ["O", "z", "o", "n", "e"],
            "titleAngle": 0, "titleFontSize": 12, "titleFontWeight": "bold", "titleColor": "black",
            "titleLineHeight": 12.3, "titleX": -48.5, "titleY": 97, "titleAlign": "center", "titleBaseline": "middle"}}
      }
    },
    {
      "data": {"values": [{"month": 31}, {"month": 61}, {"month": 92}, {"month": 122}]},
      "mark": {"type": "rule", "color": "black", "strokeWidth": 1.3},
      "encoding": {
        "x": {"field": "month", "type": "quantitative", "scale": {"domain": [1, 136.8], "nice": false, "zero": false},
          "axis": {"orient": "top", "values": [1, 31, 61, 92, 122, 136.8],
            "labelExpr": "datum.value < 2 ? 'Million Sq Km' : datum.value > 136 ? 'Updated through Dec 15, 2008' : ''",
            "labelFlush": true, "labelOverlap": false, "labelBound": false, "labelLimit": 400,
            "labelFontSize": 16.5, "labelFontWeight": "bold", "labelFontStyle": "italic", "labelColor": "black", "labelPadding": 11,
            "tickSize": -7, "tickWidth": 3, "tickColor": "black",
            "tickOpacity": {"condition": {"test": "datum.value < 2 || datum.value > 136", "value": 0}, "value": 1},
            "domain": false, "grid": false, "title": null}}
      }
    },
    {
      "data": {"name": "ozone"},
      "encoding": {
        "x": {"field": "day", "type": "quantitative", "scale": {"domain": [1, 136.8], "nice": false, "zero": false}, "axis": null},
        "y": {"field": "area", "type": "quantitative", "scale": {"domain": [0, 30], "nice": false, "zero": true}, "axis": null},
        "color": {"field": "series", "type": "nominal",
          "scale": {"domain": ["2008", "2007", "2006", "98-07 Mean", "98-07 Max", "98-07 Min"], "range": ["#ff0000", "#0000ff", "#00dd00", "#000000", "#000000", "#000000"]},
          "legend": {"orient": "none", "legendX": 0, "legendY": 408, "direction": "horizontal", "columns": 6, "title": null, "symbolType": "stroke", "symbolSize": 1024,
            "labelFontSize": 19, "labelFontWeight": "bold", "labelColor": "black", "labelOffset": 3, "columnPadding": 11, "padding": 3}},
        "strokeWidth": {"field": "series", "type": "nominal",
          "scale": {"domain": ["2008", "2007", "2006", "98-07 Mean", "98-07 Max", "98-07 Min"], "range": [5.5, 2.5, 2.5, 3, 3, 3]},
          "legend": {"orient": "none", "legendX": 0, "legendY": 408, "direction": "horizontal", "columns": 6, "title": null, "symbolType": "stroke", "symbolSize": 1024,
            "labelFontSize": 19, "labelFontWeight": "bold", "labelColor": "black", "labelOffset": 3, "columnPadding": 11, "padding": 3}},
        "strokeDash": {"field": "series", "type": "nominal",
          "scale": {"domain": ["2008", "2007", "2006", "98-07 Mean", "98-07 Max", "98-07 Min"], "range": [[1, 0], [1, 0], [1, 0], [3, 3], [1, 0], [1, 0]]},
          "legend": {"orient": "none", "legendX": 0, "legendY": 408, "direction": "horizontal", "columns": 6, "title": null, "symbolType": "stroke", "symbolSize": 1024,
            "labelFontSize": 19, "labelFontWeight": "bold", "labelColor": "black", "labelOffset": 3, "columnPadding": 11, "padding": 3}}
      },
      "layer": [
        {"transform": [{"filter": "datum.series == '98-07 Min'"}], "mark": {"type": "line", "strokeJoin": "round"},
          "encoding": {
            "x": {"field": "day", "type": "quantitative", "scale": {"domain": [1, 136.8], "nice": false, "zero": false},
              "axis": {"orient": "top", "offset": 131.3, "values": [1], "tickOffset": -80.7, "ticks": true, "tickSize": -587.3, "tickWidth": 3, "tickColor": "#0000ff",
                "labels": false, "domain": false, "grid": false, "title": null}},
            "y": {"field": "area", "type": "quantitative", "scale": {"domain": [0, 30], "nice": false, "zero": true},
              "axis": {"orient": "right", "values": [3, 6, 9, 12, 15, 18, 21, 24, 27], "labels": false,
                "tickSize": -15, "tickWidth": 3, "tickColor": "black", "domain": false, "grid": false, "title": null}}
          }},
        {"transform": [{"filter": "datum.series == '98-07 Max'"}], "mark": {"type": "line", "strokeJoin": "round"},
          "encoding": {
            "x": {"field": "day", "type": "quantitative", "scale": {"domain": [1, 136.8], "nice": false, "zero": false},
              "axis": {"orient": "top", "offset": 131.3, "values": [136.8], "tickOffset": 83, "ticks": true, "tickSize": -587.3, "tickWidth": 3, "tickColor": "#0000ff",
                "labels": false, "domain": false, "grid": false, "title": null}},
            "y": {"field": "area", "type": "quantitative", "scale": {"domain": [0, 30], "nice": false, "zero": true},
              "axis": {"orient": "left", "offset": 80.7, "values": [30], "tickOffset": -131.3, "ticks": true, "tickSize": -883.7, "tickWidth": 3, "tickColor": "#0000ff",
                "labels": false, "domain": false, "grid": false, "title": null}}
          }},
        {"transform": [{"filter": "datum.series == '98-07 Mean'"}], "mark": {"type": "line", "strokeCap": "butt"},
          "encoding": {
            "y": {"field": "area", "type": "quantitative", "scale": {"domain": [0, 30], "nice": false, "zero": true},
              "axis": {"orient": "left", "offset": 80.7, "values": [0], "tickOffset": 84, "ticks": true, "tickSize": -883.7, "tickWidth": 3, "tickColor": "#0000ff",
                "labels": false, "domain": false, "grid": false, "title": null}}
          }},
        {"transform": [{"filter": "datum.series == '2006'"}], "mark": {"type": "line", "strokeJoin": "round"},
          "encoding": {
            "y": {"field": "area", "type": "quantitative", "scale": {"domain": [0, 30], "nice": false, "zero": true},
              "axis": {"orient": "left", "ticks": false, "labels": false, "domain": false, "grid": false,
                "title": ["H", "o", "l", "e"], "titleAngle": 0, "titleFontSize": 12, "titleFontWeight": "bold", "titleColor": "black",
                "titleLineHeight": 12.3, "titleX": -48.5, "titleY": 169.6, "titleAlign": "center", "titleBaseline": "middle"}}
          }},
        {"transform": [{"filter": "datum.series == '2007'"}], "mark": {"type": "line", "strokeJoin": "round"},
          "encoding": {
            "x": {"field": "day", "type": "quantitative", "scale": {"domain": [1, 136.8], "nice": false, "zero": false},
              "axis": {"orient": "top", "offset": 122, "domain": true, "domainWidth": 3, "domainColor": "black", "domainCap": "square",
                "ticks": false, "labels": false, "grid": false, "title": null}},
            "y": {"field": "area", "type": "quantitative", "scale": {"domain": [0, 30], "nice": false, "zero": true},
              "axis": {"orient": "left", "ticks": false, "labels": false, "domain": false, "grid": false,
                "title": ["A", "r", "e", "a"], "titleAngle": 0, "titleFontSize": 12, "titleFontWeight": "bold", "titleColor": "black",
                "titleLineHeight": 12.3, "titleX": -48.5, "titleY": 230.1, "titleAlign": "center", "titleBaseline": "middle"}}
          }},
        {"transform": [{"filter": "datum.series == '2008'"}], "mark": {"type": "line", "strokeJoin": "round"},
          "encoding": {"x": {"field": "day", "type": "quantitative", "scale": {"domain": [1, 136.8], "nice": false, "zero": false},
            "axis": {"orient": "top", "offset": 30, "values": [1, 136.8], "domain": true, "domainWidth": 3, "domainColor": "black", "domainCap": "square",
              "ticks": true, "tickSize": 92, "tickWidth": 3, "tickColor": "black", "labels": false, "grid": false,
              "title": "Current Year Compared Against Past 10 Years", "titleFontSize": 17.5, "titleFontStyle": "italic", "titleFontWeight": "bold",
              "titleColor": "black", "titleY": -7, "titleBaseline": "alphabetic", "titleAngle": 0}}}}
      ],
      "resolve": {"axis": {"x": "independent", "y": "independent"}}
    }
  ],
  "resolve": {"axis": {"x": "independent", "y": "independent"}}
}
